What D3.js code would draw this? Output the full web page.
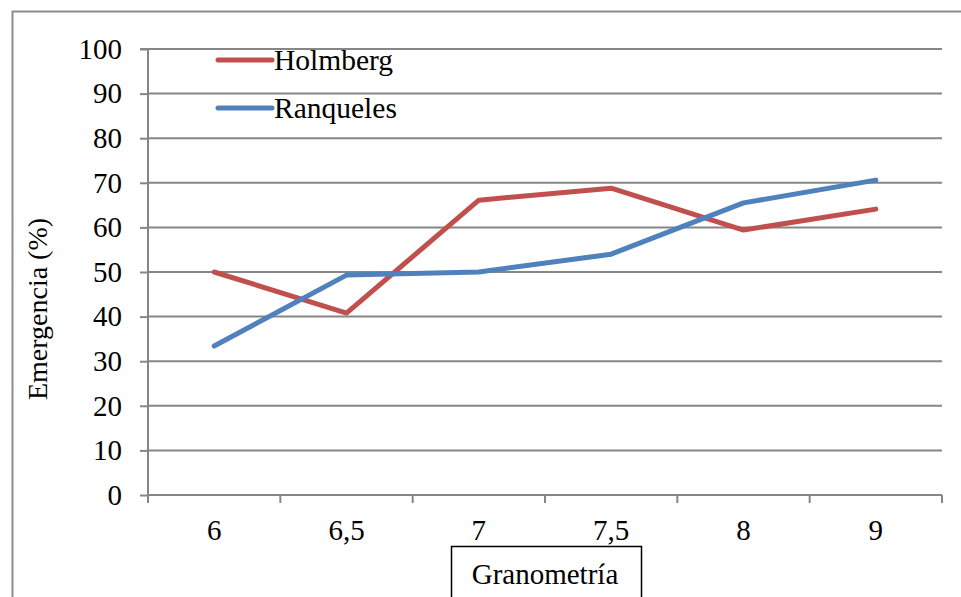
<!DOCTYPE html>
<html>
<head>
<meta charset="utf-8">
<script src="https://cdn.jsdelivr.net/npm/d3@7"></script>
<style>
  body { margin: 0; background: #fff; }
  svg text { font-family: 'Liberation Serif', serif !important; }
</style>
</head>
<body>
<svg id="chart"></svg>
<script>
var categories = ["6", "6,5", "7", "7,5", "8", "9"];
var holmberg = [50, 40.8, 66.1, 68.8, 59.4, 64.1];
var ranqueles = [33.4, 49.3, 50, 54, 65.5, 70.6];
var yTicks = [0, 10, 20, 30, 40, 50, 60, 70, 80, 90, 100];

var series = [
	{name: "Holmberg", values: holmberg, color: "#C0504D"},
	{name: "Ranqueles", values: ranqueles, color: "#4F81BD"}
];

var FONT = "'Liberation Serif', serif";

var svgWidth = 961, svgHeight = 597;
var margin = {top: 49, right: 19, bottom: 102, left: 148};
var width = svgWidth - margin.left - margin.right;
var height = svgHeight - margin.top - margin.bottom;

var svg = d3.select("#chart")
	.attr("width", svgWidth)
	.attr("height", svgHeight);

// outer frame
svg.append("rect")
	.attr("x", 12.5).attr("y", 11.5)
	.attr("width", 960).attr("height", 600)
	.attr("fill", "none")
	.attr("stroke", "#8c8c8c")
	.attr("stroke-width", 2);

var g = svg.append("g")
	.attr("transform", "translate(" + margin.left + "," + margin.top + ")");

var x = d3.scaleBand()
	.domain(categories)
	.range([0, width]);

var y = d3.scaleLinear()
	.domain([0, 100])
	.range([height, 0]);

// gridlines
g.selectAll(".grid")
	.data(yTicks.filter(d => d > 0))
	.enter().append("line")
	.attr("class", "grid")
	.attr("x1", 0).attr("x2", width)
	.attr("y1", d => y(d)).attr("y2", d => y(d))
	.attr("stroke", "#868686")
	.attr("stroke-width", 2);

// y axis
var yAxis = g.append("g")
	.call(d3.axisLeft(y).tickValues(yTicks).tickSize(8).tickPadding(18));
yAxis.select(".domain").attr("stroke", "#868686").attr("stroke-width", 2)
	.attr("d", "M-8," + y(100) + "H0V" + (height + 6));
yAxis.selectAll(".tick line").attr("stroke", "#868686").attr("stroke-width", 2);
yAxis.selectAll("text")
	.style("font-family", FONT).style("font-size", "29px").attr("fill", "#000");

// x axis
var xAxis = g.append("g")
	.attr("transform", "translate(0," + height + ")")
	.call(d3.axisBottom(x).tickSize(0).tickPadding(24));
xAxis.select(".domain").attr("stroke", "#868686").attr("stroke-width", 2)
	.attr("d", "M0,0H" + width);
xAxis.selectAll("text")
	.style("font-family", FONT).style("font-size", "29px").attr("fill", "#000");

// x tick marks between categories
var bounds = categories.map(d => x(d)).concat([width]);
g.selectAll(".xtick")
	.data(bounds)
	.enter().append("line")
	.attr("class", "xtick")
	.attr("x1", d => d).attr("x2", d => d)
	.attr("y1", height).attr("y2", height + 8)
	.attr("stroke", "#868686")
	.attr("stroke-width", 2);

// lines
var line = d3.line()
	.x((d, i) => x(categories[i]) + x.bandwidth() / 2)
	.y(d => y(d));

g.selectAll(".series")
	.data(series)
	.enter().append("path")
	.attr("class", "series")
	.attr("d", d => line(d.values))
	.attr("fill", "none")
	.attr("stroke", d => d.color)
	.attr("stroke-width", 5)
	.attr("stroke-linecap", "round")
	.attr("stroke-linejoin", "round");

// legend
var legend = svg.append("g")
	.selectAll("g")
	.data(series)
	.enter().append("g")
	.attr("transform", (d, i) => "translate(218," + (60 + i * 48) + ")");

legend.append("line")
	.attr("x1", 0).attr("x2", 54)
	.attr("stroke", d => d.color)
	.attr("stroke-width", 5)
	.attr("stroke-linecap", "round");

legend.append("text")
	.attr("x", 56)
	.attr("dy", "0.35em")
	.style("font-family", FONT)
	.style("font-size", "29.5px")
	.text(d => d.name);

// y title
svg.append("text")
	.attr("transform", "translate(47,309) rotate(-90)")
	.attr("text-anchor", "middle")
	.style("font-family", FONT)
	.style("font-size", "28px")
	.text("Emergencia (%)");

// x title box
svg.append("rect")
	.attr("x", 451.5).attr("y", 546.5)
	.attr("width", 190).attr("height", 70)
	.attr("fill", "#fff")
	.attr("stroke", "#000")
	.attr("stroke-width", 1.5);

svg.append("text")
	.attr("x", 545).attr("y", 584)
	.attr("text-anchor", "middle")
	.style("font-family", FONT)
	.style("font-size", "29px")
	.text("Granometría");
</script>
</body>
</html>
